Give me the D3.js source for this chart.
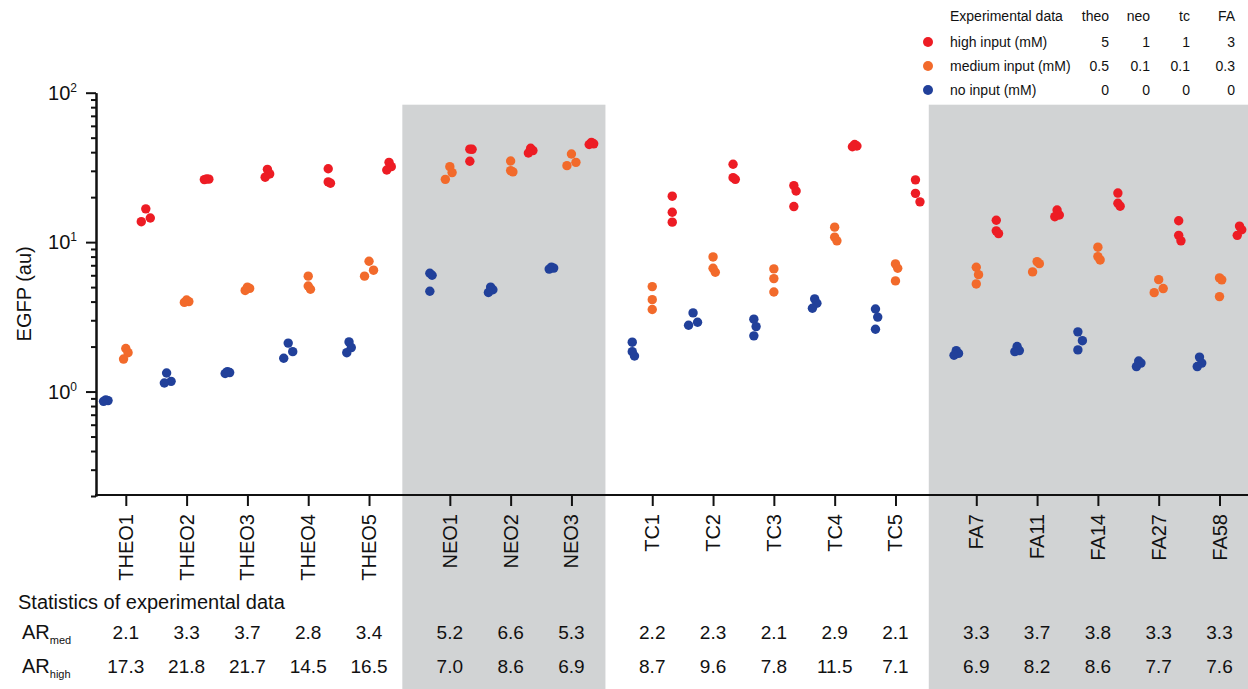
<!DOCTYPE html>
<html>
<head>
<meta charset="utf-8">
<script src="https://cdn.jsdelivr.net/npm/d3@7"></script>
<style>
  body { margin: 0; background: #fff; }
  text { font-family: "Liberation Sans", Arial, sans-serif; fill: #111; }
</style>
</head>
<body>
<svg id="chart" width="1248" height="689"></svg>
<script>
// ---- data ----
var categories = ["THEO1", "THEO2", "THEO3", "THEO4", "THEO5",
                  "NEO1", "NEO2", "NEO3",
                  "TC1", "TC2", "TC3", "TC4", "TC5",
                  "FA7", "FA11", "FA14", "FA27", "FA58"];
var categoryGroup = ["theo", "theo", "theo", "theo", "theo",
                     "neo", "neo", "neo",
                     "tc", "tc", "tc", "tc", "tc",
                     "FA", "FA", "FA", "FA", "FA"];
var groups = ["theo", "neo", "tc", "FA"];
var shadedGroups = ["neo", "FA"];

// three replicates per category, EGFP (au)
var noInput = [
  [0.88, 0.86, 0.87], [1.33, 1.14, 1.17], [1.36, 1.32, 1.34], [2.11, 1.85, 1.67], [2.15, 1.97, 1.82],
  [6.19, 6.0, 4.69], [5.0, 4.8, 4.6], [6.8, 6.6, 6.7],
  [2.14, 1.85, 1.73], [3.36, 2.91, 2.78], [3.05, 2.72, 2.36], [4.17, 3.9, 3.61], [3.57, 3.15, 2.61],
  [1.88, 1.8, 1.75], [2.0, 1.88, 1.85], [2.51, 2.19, 1.9], [1.6, 1.55, 1.47], [1.7, 1.55, 1.47]
];
var mediumInput = [
  [1.65, 1.94, 1.82], [4.0, 4.1, 3.95], [4.9, 5.0, 4.75], [5.92, 5.09, 4.84], [7.45, 6.49, 5.92],
  [32.0, 29.2, 26.3], [34.9, 29.5, 30.1], [38.9, 34.2, 32.5],
  [5.04, 4.12, 3.54], [7.96, 6.69, 6.29], [6.62, 5.7, 4.64], [12.6, 10.8, 10.2], [7.15, 6.69, 5.5],
  [6.79, 6.06, 5.25], [7.41, 7.18, 6.32], [9.25, 8.0, 7.6], [5.61, 4.89, 4.59], [5.76, 5.59, 4.32]
];
var highInput = [
  [16.7, 13.7, 14.5], [26.5, 26.2, 26.4], [30.7, 28.6, 27.2], [31.0, 24.8, 25.3], [34.2, 32.0, 30.4],
  [41.8, 41.9, 34.8], [42.5, 41.0, 39.5], [46.5, 45.5, 45.0],
  [20.3, 15.85, 13.6], [33.2, 26.3, 27.0], [23.9, 22.0, 17.3], [45.0, 44.0, 43.5], [26.1, 21.2, 18.6],
  [14.0, 11.9, 11.4], [16.4, 15.2, 14.8], [21.3, 18.2, 17.4], [13.9, 11.1, 10.2], [12.8, 12.1, 11.1]
];

var seriesKeys = ["none", "medium", "high"];
var seriesValues = [noInput, mediumInput, highInput];
var seriesColors = ["#21409A", "#F26A2B", "#ED1C24"];

// legend dose table
var highDose = ["5", "1", "1", "3"];
var mediumDose = ["0.5", "0.1", "0.1", "0.3"];
var noDose = ["0", "0", "0", "0"];

// statistics rows
var arMed = ["2.1", "3.3", "3.7", "2.8", "3.4", "5.2", "6.6", "5.3", "2.2", "2.3", "2.1", "2.9", "2.1", "3.3", "3.7", "3.8", "3.3", "3.3"];
var arHigh = ["17.3", "21.8", "21.7", "14.5", "16.5", "7.0", "8.6", "6.9", "8.7", "9.6", "7.8", "11.5", "7.1", "6.9", "8.2", "8.6", "7.7", "7.6"];

// ---- layout ----
var W = 1248, H = 689;
var axisX = 96, axisBottom = 495, axisTop = 92.7;
var svg = d3.select("#chart");

// slot index with a small extra gap between groups
var gapSlots = 20 / 60.8;
var slots = categories.map(function (c, i) { return i + groups.indexOf(categoryGroup[i]) * gapSlots; });
var slotScale = d3.scaleLinear().domain([0, d3.max(slots)]).range([125.8, 1219.5]);
var x = d3.scaleOrdinal(categories, slots.map(slotScale));
var seriesOffset = d3.scalePoint().domain(seriesKeys).range([-20, 20]);
var y = d3.scaleLog().domain([0.2, 100]).range([496, axisTop]);

// shaded group bands
shadedGroups.forEach(function (g) {
  var cats = categories.filter(function (c, i) { return categoryGroup[i] === g; });
  var x0 = x(cats[0]) - 47.5, x1 = Math.min(W, x(cats[cats.length - 1]) + 34);
  svg.append("rect")
    .attr("x", x0).attr("y", 104.7)
    .attr("width", x1 - x0).attr("height", H - 104.7)
    .attr("fill", "#D1D3D4");
});

// y axis (log)
var allTicks = y.ticks();
var majorTicks = allTicks.filter(function (t) { return Math.abs(Math.log10(t) - Math.round(Math.log10(t))) < 1e-9; });
var minorTicks = allTicks.filter(function (t) { return majorTicks.indexOf(t) < 0; });

var yMinor = svg.append("g").attr("transform", "translate(" + axisX + ",0)")
  .call(d3.axisLeft(y).tickValues(minorTicks).tickSize(5).tickSizeOuter(0).tickFormat(""));
var yMajor = svg.append("g").attr("transform", "translate(" + axisX + ",0)")
  .call(d3.axisLeft(y).tickValues(majorTicks).tickSize(10).tickSizeOuter(0).tickFormat(""));
[yMinor, yMajor].forEach(function (g) {
  g.selectAll("path, line").attr("stroke", "#111").attr("stroke-width", 2);
});

var yLabels = svg.append("g").selectAll("text").data(majorTicks).enter().append("text")
  .attr("x", 77).attr("y", function (d) { return y(d) + 7; })
  .attr("text-anchor", "end")
  .style("font-size", "20px");
yLabels.append("tspan").text("10");
yLabels.append("tspan").attr("dy", -8).style("font-size", "12px")
  .text(function (d) { return Math.round(Math.log10(d)); });

svg.append("text")
  .attr("transform", "translate(31," + ((axisTop + axisBottom) / 2) + ") rotate(-90)")
  .attr("text-anchor", "middle")
  .style("font-size", "20px")
  .text("EGFP (au)");

// x axis
svg.append("line")
  .attr("x1", axisX - 1).attr("x2", W).attr("y1", axisBottom).attr("y2", axisBottom)
  .attr("stroke", "#111").attr("stroke-width", 2);
var xAxis = svg.append("g").attr("transform", "translate(0," + axisBottom + ")")
  .call(d3.axisBottom(x).tickSize(11).tickFormat(""));
xAxis.select(".domain").remove();
xAxis.selectAll("line").attr("stroke", "#111").attr("stroke-width", 2);

svg.append("g").selectAll("text").data(categories).enter().append("text")
  .attr("transform", function (d) { return "translate(" + x(d) + ",514) rotate(-90)"; })
  .attr("dy", "0.35em")
  .attr("text-anchor", "end")
  .style("font-size", "20px")
  .text(function (d) { return d; });

// points: small swarm so that replicates do not hide each other
var r = 4.7, step = 4.5, minDist = 2 * r;
function swarm(vals, cx) {
  var pts = vals.map(function (v) { return { v: v, y: y(v) }; })
    .sort(function (a, b) { return a.y - b.y; });
  var placed = [];
  pts.forEach(function (p) {
    var best = 0, bestD = -1, fits = false;
    [0, step, -step].some(function (o) {
      var d = placed.length ? d3.min(placed, function (q) { return Math.hypot(q.dx - o, q.y - p.y); }) : Infinity;
      if (d >= minDist) { best = o; fits = true; return true; }
      if (d > bestD) { bestD = d; best = o; }
      return false;
    });
    p.dx = fits ? best : best * 0.5;
    placed.push(p);
  });
  return pts.map(function (p) { return { x: cx + p.dx, y: p.y }; });
}

seriesKeys.forEach(function (key, si) {
  var pts = [];
  categories.forEach(function (c, ci) {
    pts = pts.concat(swarm(seriesValues[si][ci], x(c) + seriesOffset(key)));
  });
  svg.append("g").selectAll("circle").data(pts).enter().append("circle")
    .attr("cx", function (d) { return d.x; })
    .attr("cy", function (d) { return d.y; })
    .attr("r", r)
    .attr("fill", seriesColors[si]);
});

// legend table (top right)
var legendCols = d3.scaleOrdinal(groups, [1109, 1150, 1190, 1235]);
var legendRows = [
  { label: "high input (mM)", color: seriesColors[2], doses: highDose, y: 42 },
  { label: "medium input (mM)", color: seriesColors[1], doses: mediumDose, y: 66 },
  { label: "no input (mM)", color: seriesColors[0], doses: noDose, y: 90 }
];
var legend = svg.append("g").style("font-size", "14px");
legend.append("text").attr("x", 950).attr("y", 21).text("Experimental data");
groups.forEach(function (g) {
  legend.append("text").attr("x", legendCols(g)).attr("y", 21).attr("text-anchor", "end").text(g);
});
legendRows.forEach(function (row) {
  legend.append("circle").attr("cx", 928).attr("cy", row.y).attr("r", 5).attr("fill", row.color);
  legend.append("text").attr("x", 950).attr("y", row.y + 5).text(row.label);
  groups.forEach(function (g, gi) {
    legend.append("text").attr("x", legendCols(g)).attr("y", row.y + 5)
      .attr("text-anchor", "end").text(row.doses[gi]);
  });
});

// statistics rows
svg.append("text").attr("x", 18).attr("y", 609).style("font-size", "20px")
  .text("Statistics of experimental data");

[{ sub: "med", vals: arMed, y: 639 }, { sub: "high", vals: arHigh, y: 673 }].forEach(function (row) {
  var t = svg.append("text").attr("x", 22).attr("y", row.y).style("font-size", "20px");
  t.append("tspan").text("AR");
  t.append("tspan").attr("dy", 5).style("font-size", "11px").text(row.sub);
  svg.append("g").selectAll("text").data(categories).enter().append("text")
    .attr("x", function (d) { return x(d); })
    .attr("y", row.y)
    .attr("text-anchor", "middle")
    .style("font-size", "19px")
    .text(function (d, i) { return row.vals[i]; });
});
</script>
</body>
</html>
